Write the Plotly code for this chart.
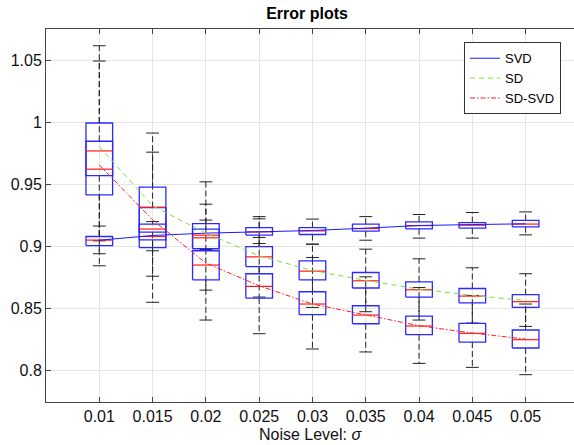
import plotly.graph_objects as go

# ---------------- data ----------------
noise = [0.01, 0.015, 0.02, 0.025, 0.03, 0.035, 0.04, 0.045, 0.05]
x_labels = ["0.01", "0.015", "0.02", "0.025", "0.03", "0.035", "0.04", "0.045", "0.05"]
y_ticks = [0.8, 0.85, 0.9, 0.95, 1.0, 1.05]
y_labels = ["0.8", "0.85", "0.9", "0.95", "1", "1.05"]

# box statistics per method: lower whisker, q1, median, q3, upper whisker
svd_low = [0.8941, 0.8965, 0.8975, 0.9023, 0.9018, 0.9050, 0.9067, 0.9067, 0.9093]
svd_q1 = [0.9007, 0.9053, 0.8983, 0.9091, 0.9096, 0.9123, 0.9142, 0.9147, 0.9158]
svd_med = [0.9051, 0.9080, 0.9091, 0.9117, 0.9125, 0.9144, 0.9168, 0.9171, 0.9180]
svd_q3 = [0.9080, 0.9180, 0.9140, 0.9152, 0.9152, 0.9179, 0.9198, 0.9192, 0.9209]
svd_up = [0.9164, 0.9200, 0.9212, 0.9240, 0.9220, 0.9240, 0.9257, 0.9273, 0.9278]

sd_low = [0.9045, 0.8760, 0.8648, 0.8592, 0.8509, 0.8474, 0.8407, 0.8383, 0.8356]
sd_q1 = [0.9570, 0.9115, 0.8983, 0.8838, 0.8731, 0.8665, 0.8592, 0.8546, 0.8509]
sd_med = [0.9769, 0.9316, 0.9069, 0.8916, 0.8801, 0.8723, 0.8651, 0.8600, 0.8555]
sd_q3 = [0.9994, 0.9477, 0.9184, 0.8999, 0.8884, 0.8790, 0.8715, 0.8661, 0.8611]
sd_up = [1.0493, 0.9913, 0.9520, 0.9222, 0.9018, 0.8978, 0.8900, 0.8828, 0.8780]

sdsvd_low = [0.8844, 0.8550, 0.8407, 0.8297, 0.8174, 0.8150, 0.8058, 0.8026, 0.7967]
sdsvd_q1 = [0.9415, 0.8990, 0.8731, 0.8584, 0.8450, 0.8377, 0.8289, 0.8230, 0.8182]
sdsvd_med = [0.9622, 0.9140, 0.8850, 0.8678, 0.8536, 0.8447, 0.8359, 0.8300, 0.8249]
sdsvd_q3 = [0.9847, 0.9313, 0.8965, 0.8780, 0.8635, 0.8522, 0.8439, 0.8380, 0.8327]
sdsvd_up = [1.0616, 0.9759, 0.9340, 0.9072, 0.8911, 0.8755, 0.8669, 0.8605, 0.8536]

# mean curves drawn over the boxes
svd_mean = [0.9050, 0.9088, 0.9107, 0.9117, 0.9128, 0.9147, 0.9168, 0.9176, 0.9182]
sd_mean = [0.9804, 0.9327, 0.9107, 0.8924, 0.8806, 0.8726, 0.8656, 0.8605, 0.8565]
sdsvd_mean = [0.9656, 0.9214, 0.8866, 0.8683, 0.8536, 0.8447, 0.8361, 0.8302, 0.8254]

# ---------------- build box glyphs ----------------
BOX_HALF = 0.00125
CAP_HALF = 0.0006

groups = [
    (svd_low, svd_q1, svd_med, svd_q3, svd_up),
    (sd_low, sd_q1, sd_med, sd_q3, sd_up),
    (sdsvd_low, sdsvd_q1, sdsvd_med, sdsvd_q3, sdsvd_up),
]

wx, wy = [], []   # whiskers
cx, cy = [], []   # caps
bx, by = [], []   # boxes
mx, my = [], []   # medians
for low, q1, med, q3, up in groups:
    for i, x in enumerate(noise):
        wx += [x, x, None, x, x, None]
        wy += [q3[i], up[i], None, q1[i], low[i], None]
        cx += [x - CAP_HALF, x + CAP_HALF, None, x - CAP_HALF, x + CAP_HALF, None]
        cy += [up[i], up[i], None, low[i], low[i], None]
        bx += [x - BOX_HALF, x + BOX_HALF, x + BOX_HALF, x - BOX_HALF, x - BOX_HALF, None]
        by += [q1[i], q1[i], q3[i], q3[i], q1[i], None]
        mx += [x - BOX_HALF, x + BOX_HALF, None]
        my += [med[i], med[i], None]

fig = go.Figure()
fig.add_trace(go.Scatter(x=wx, y=wy, mode="lines", showlegend=False, hoverinfo="skip",
                         line=dict(color="#222222", width=1, dash="6px,3px")))
fig.add_trace(go.Scatter(x=cx, y=cy, mode="lines", showlegend=False, hoverinfo="skip",
                         line=dict(color="#222222", width=1)))
fig.add_trace(go.Scatter(x=bx, y=by, mode="lines", showlegend=False, hoverinfo="skip",
                         line=dict(color="#2a2aff", width=1.3)))
fig.add_trace(go.Scatter(x=mx, y=my, mode="lines", showlegend=False, hoverinfo="skip",
                         line=dict(color="#ff1a1a", width=1.2)))

fig.add_trace(go.Scatter(x=noise, y=svd_mean, mode="lines", name="SVD",
                         line=dict(color="#1a1aff", width=1)))
fig.add_trace(go.Scatter(x=noise, y=sd_mean, mode="lines", name="SD",
                         line=dict(color="#7de03a", width=1, dash="5px,4px")))
fig.add_trace(go.Scatter(x=noise, y=sdsvd_mean, mode="lines", name="SD-SVD",
                         line=dict(color="#ff2020", width=1, dash="5px,2px,1.5px,2px")))

FONT = "Liberation Sans, Arial, Helvetica, sans-serif"

fig.update_layout(
    width=574, height=445,
    margin=dict(l=46.3, r=0, t=29, b=42.7),
    paper_bgcolor="white", plot_bgcolor="white",
    font=dict(family=FONT, size=16, color="#111111"),
    title=dict(text="<b>Error plots</b>", x=0.535, xanchor="center",
               y=1 - 13 / 445, yanchor="middle", yref="container",
               font=dict(size=16, color="#000000")),
    showlegend=True,
    legend=dict(x=0.9754, xanchor="right", y=0.9644, yanchor="top",
                bgcolor="white", bordercolor="#333333", borderwidth=1,
                font=dict(size=13, color="#000000"),
                itemwidth=30, tracegroupgap=0),
    xaxis=dict(range=[0.005, 0.05454], tickvals=noise, ticktext=x_labels,
               ticks="inside", ticklen=5, tickcolor="#444444",
               showline=True, linecolor="#444444", linewidth=1, mirror="ticks",
               showgrid=True, gridcolor="#e6e6e6", gridwidth=1, zeroline=False,
               title=dict(text="Noise Level: <i>σ</i>", standoff=4,
                          font=dict(size=16, color="#111111")),
               tickfont=dict(size=16, color="#111111")),
    yaxis=dict(range=[0.7747, 1.0751], tickvals=y_ticks, ticktext=y_labels,
               ticks="inside", ticklen=5, tickcolor="#444444",
               showline=True, linecolor="#444444", linewidth=1, mirror=False,
               showgrid=True, gridcolor="#e6e6e6", gridwidth=1, zeroline=False,
               tickfont=dict(size=16, color="#111111")),
)

fig.write_html("out.html")
